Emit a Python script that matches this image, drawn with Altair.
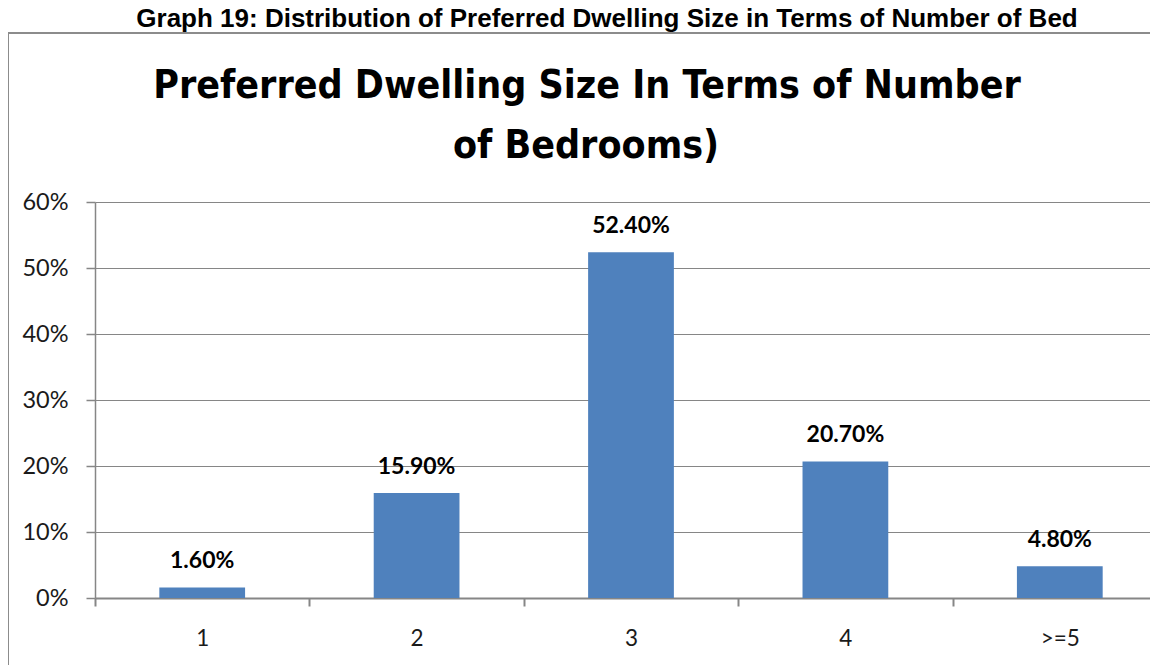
import altair as alt
import pandas as pd

categories = ["1", "2", "3", "4", ">=5"]
shares = [0.016, 0.159, 0.524, 0.207, 0.048]
y_ticks = [0, 0.1, 0.2, 0.3, 0.4, 0.5, 0.6]
outer_title = "Graph 19: Distribution of Preferred Dwelling Size in Terms of Number of Bed"
chart_title = ["Preferred Dwelling Size In Terms of Number", "of Bedrooms)"]

df = pd.DataFrame({"cat": categories, "share": shares})
one = pd.DataFrame({"k": [0]})

W, H = 1055, 396
GREY = "#868686"
NARROW = "DejaVu Sans Condensed, Liberation Sans Narrow, Roboto, sans-serif"

x_enc = alt.X("cat:N", sort=categories, title=None,
              scale=alt.Scale(range=[0, 1072], paddingInner=0, paddingOuter=0),
              axis=alt.Axis(labelAngle=0, tickBand="extent", tickSize=8, labelPadding=21,
                            labelFont="Lato", labelFontSize=22.5, labelColor="#1a1a1a",
                            domainColor=GREY, domainWidth=2, tickColor=GREY, tickWidth=2,
                            grid=False))
y_enc = alt.Y("share:Q", title=None,
              scale=alt.Scale(domain=[0, 0.6], nice=False),
              axis=alt.Axis(values=y_ticks, format=".0%", tickSize=9, labelPadding=18,
                            labelFont="Lato", labelFontSize=23.5, labelColor="#1a1a1a",
                            domainColor=GREY, domainWidth=1.5, tickColor=GREY, tickWidth=1.5,
                            gridColor=GREY, gridWidth=1.2))

bars = alt.Chart(df).mark_bar(color="#4F81BD", width=alt.RelativeBandSize(0.4)).encode(x=x_enc, y=y_enc)
labels = alt.Chart(df).mark_text(font="Lato", fontWeight="bold", fontSize=23, dy=-19,
                                 baseline="alphabetic", color="#000000").encode(
    x=alt.X("cat:N", sort=categories), y=alt.Y("share:Q"), text=alt.Text("share:Q", format=".2%"))

box_left = alt.Chart(one).mark_rule(color="#8c8c8c", strokeWidth=2).encode(
    x=alt.value(-87), y=alt.value(-169), y2=alt.value(H + 80))
box_top = alt.Chart(one).mark_rule(color="#8c8c8c", strokeWidth=2).encode(
    x=alt.value(-88), x2=alt.value(W + 20), y=alt.value(-169))

t_outer = alt.Chart(one).mark_text(font="Liberation Sans", fontWeight="bold", fontSize=26,
                                   align="center", baseline="alphabetic", color="#000000").encode(
    x=alt.value(512), y=alt.value(-175), text=alt.value(outer_title))
t1 = alt.Chart(one).mark_text(font=NARROW, fontWeight="bold", fontSize=39,
                              align="center", baseline="alphabetic", color="#000000").encode(
    x=alt.value(492), y=alt.value(-104), text=alt.value(chart_title[0]))
t2 = alt.Chart(one).mark_text(font=NARROW, fontWeight="bold", fontSize=39,
                              align="center", baseline="alphabetic", color="#000000").encode(
    x=alt.value(491), y=alt.value(-44), text=alt.value(chart_title[1]))

chart = alt.layer(bars, labels, box_left, box_top, t_outer, t1, t2).properties(
    width=W, height=H,
    autosize=alt.AutoSizeParams(type="none"),
    padding={"left": 87, "top": 194, "right": 0, "bottom": 67},
    background="white",
).configure_view(stroke=None)

chart.save("out.html", embed_options={"renderer": "svg", "actions": False})
